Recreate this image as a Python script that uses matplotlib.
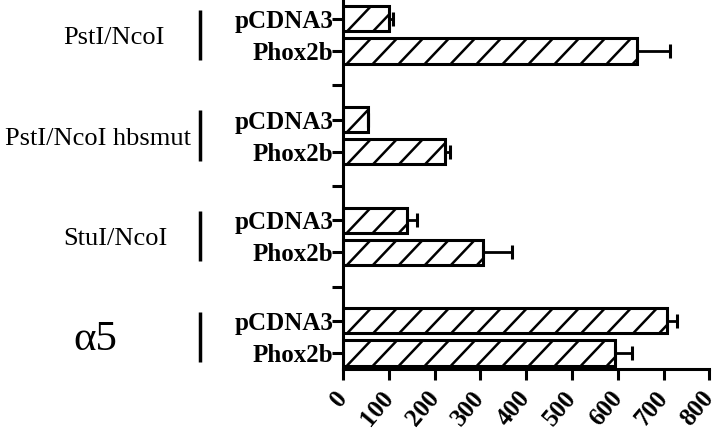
import numpy as np
import matplotlib
matplotlib.use("Agg")
import matplotlib.pyplot as plt
from matplotlib.collections import LineCollection
from matplotlib.transforms import blended_transform_factory

plt.rcParams['font.family'] = ['Liberation Serif', 'DejaVu Serif']

# data, groups listed top to bottom
groups = ['PstI/NcoI', 'PstI/NcoI hbsmut', 'StuI/NcoI', '\u03b15']
pcdna3 = [100, 55, 140, 707]
pcdna3_err = [9, 0, 21, 22]
phox2b = [641, 223, 305, 594]
phox2b_err = [73, 11, 63, 36]
xticks = [0, 100, 200, 300, 400, 500, 600, 700, 800]

fig = plt.figure(figsize=(7.2, 4.32), dpi=100)
ax = fig.add_axes([0.4764, 0.1447, 0.509, 0.8553])

n = len(groups)
centers = np.arange(n)[::-1]  # top group highest
off = 0.16
h = 0.25
y_p = centers + off
y_x = centers - off

ax.set_xlim(0, 800)
ax.set_ylim(-0.323, 3.347)

bars1 = ax.barh(y_p, pcdna3, height=h, color='white', edgecolor='black', linewidth=2.2)
bars2 = ax.barh(y_x, phox2b, height=h, color='white', edgecolor='black', linewidth=2.2)
ax.errorbar(pcdna3, y_p, xerr=[np.zeros(n), pcdna3_err], fmt='none', ecolor='black',
            elinewidth=2, capsize=5, capthick=2.2)
ax.errorbar(phox2b, y_x, xerr=[np.zeros(n), phox2b_err], fmt='none', ecolor='black',
            elinewidth=2, capsize=5, capthick=2.2)

# wide diagonal hatching, drawn by hand and clipped to each bar
p0 = ax.transData.transform((0, 0))
p1 = ax.transData.transform((1, 1))
ux = 1.0 / (p1[0] - p0[0])   # data x per pixel
uy = 1.0 / (p1[1] - p0[1])   # data y per pixel
step = 26 * ux
for b in list(bars1) + list(bars2):
    x0, y0 = b.get_x(), b.get_y()
    w, hh = b.get_width(), b.get_height()
    rise = hh / uy * ux * 0.95
    segs = []
    xs = x0 + 4 * ux
    while xs < x0 + w + step:
        segs.append([(xs, y0), (xs + rise, y0 + hh)])
        xs += step
    lc = LineCollection(segs, colors='black', linewidths=1.8, zorder=2.5)
    ax.add_collection(lc)
    lc.set_clip_path(b)

for s in ['top', 'right']:
    ax.spines[s].set_visible(False)
ax.spines['left'].set_linewidth(2.2)
ax.spines['bottom'].set_linewidth(2.2)

ax.set_xticks(xticks)
ax.set_xticklabels([str(t) for t in xticks], rotation=50, ha='right', va='center',
                   rotation_mode='anchor', fontsize=18, fontweight='bold')
ax.tick_params(axis='x', length=8, width=2.2, pad=10)

yt = list(y_p) + list(y_x)
yl = ['pCDNA3'] * n + ['Phox2b'] * n
ax.set_yticks(yt)
ax.set_yticklabels(yl, fontsize=18, fontweight='bold')
ax.set_yticks(centers[:-1] - 0.5, minor=True)
ax.tick_params(axis='y', which='both', length=8, width=2.2, pad=-1)

# group labels and separator strokes on the left
trans = blended_transform_factory(ax.transAxes, ax.transData)
label_x = [-0.625, -0.668, -0.622, -0.677]
for i, g in enumerate(groups):
    fs = 31 if g.startswith('\u03b1') else 19
    ax.text(label_x[i], centers[i] - 0.03, g, transform=trans, ha='center', va='center',
            fontsize=fs)
    ax.plot([-0.39, -0.39], [centers[i] - 0.25, centers[i] + 0.25], transform=trans,
            color='black', lw=2.5, clip_on=False, solid_capstyle='butt')

fig.savefig('out.png', dpi=100)
